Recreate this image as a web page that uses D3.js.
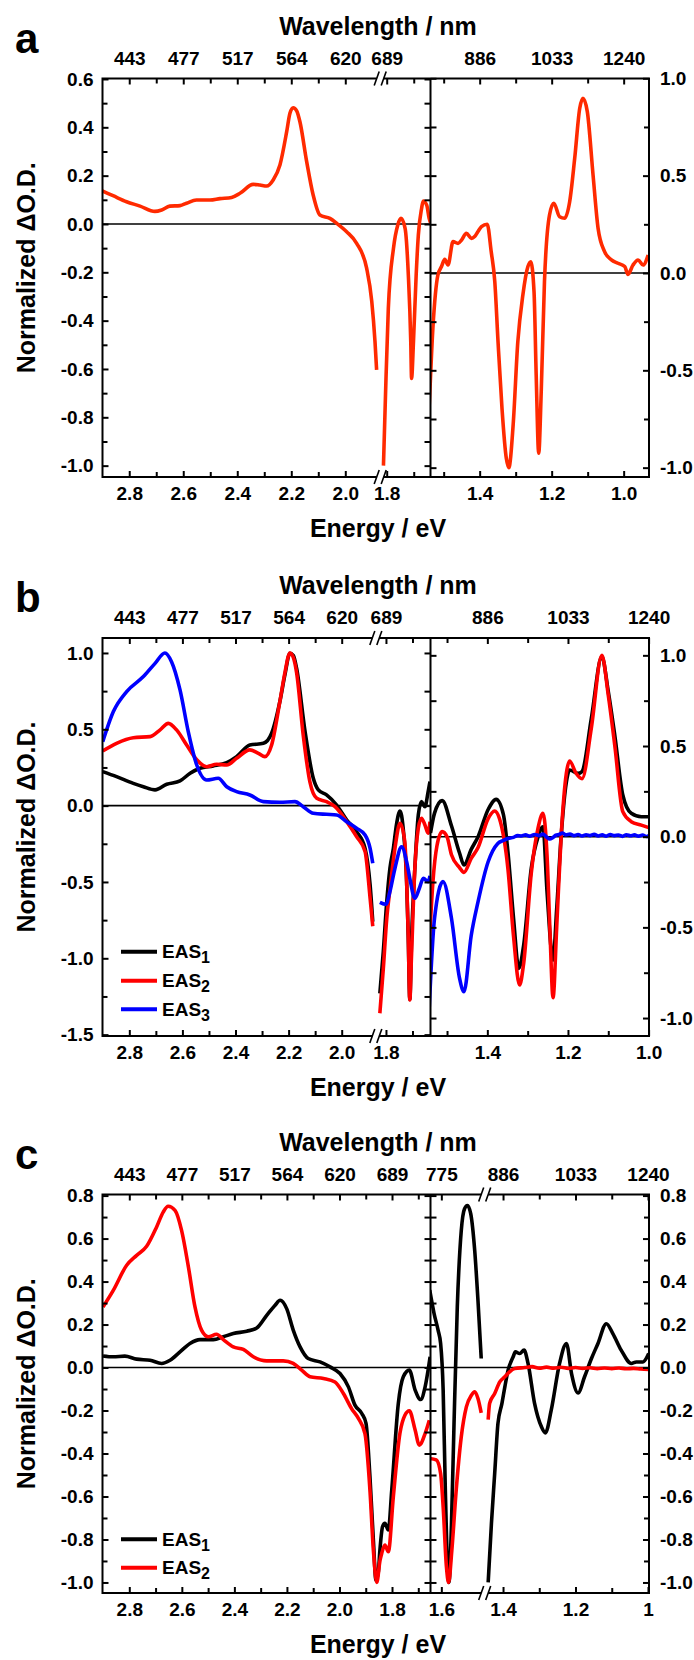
<!DOCTYPE html>
<html>
<head>
<meta charset="utf-8">
<script src="https://cdn.jsdelivr.net/npm/d3@7"></script>
<style>
  body { margin: 0; background: #fff; }
  svg { display: block; }
</style>
</head>
<body>
<svg id="chart" width="694" height="1660"></svg>
<script>
// ---- data: [energy eV, normalized dO.D.] ----

// panel a, single spectrum (visible, before and after the axis break, then NIR)
const aRedVis1 = [[2.90,0.137],[2.86,0.117],[2.81,0.092],[2.76,0.074],[2.705,0.052],[2.68,0.058],[2.65,0.074],[2.612,0.076],[2.588,0.086],[2.551,0.099],[2.501,0.099],[2.464,0.105],[2.421,0.110],[2.39,0.127],[2.341,0.164],[2.316,0.161],[2.291,0.157],[2.267,0.182],[2.242,0.244],[2.217,0.382],[2.205,0.458],[2.193,0.481],[2.18,0.468],[2.168,0.423],[2.143,0.258],[2.119,0.12],[2.094,0.037],[2.057,0.023],[2.032,0.003],[1.995,-0.032],[1.958,-0.08],[1.921,-0.183],[1.902,-0.32],[1.89,-0.487],[1.884,-0.604]]
const aRedVis2 = [[1.812,-1.0],[1.804,-0.69],[1.794,-0.349],[1.775,-0.101],[1.759,-0.004],[1.747,0.023],[1.732,-0.018],[1.72,-0.211],[1.711,-0.487],[1.708,-0.639],[1.701,-0.487],[1.691,-0.211],[1.683,-0.046],[1.671,0.064],[1.665,0.095],[1.652,0.078],[1.643,0.023],[1.636,0.0]]
const aRedNir = [[1.545,-0.85],[1.541,-0.712],[1.53,-0.284],[1.516,-0.01],[1.506,0.033],[1.497,0.07],[1.488,0.041],[1.474,0.161],[1.46,0.152],[1.45,0.17],[1.437,0.204],[1.423,0.178],[1.414,0.187],[1.405,0.212],[1.395,0.238],[1.379,0.25],[1.368,0.11],[1.358,-0.045],[1.349,-0.353],[1.338,-0.695],[1.326,-0.952],[1.319,-1.0],[1.307,-0.78],[1.294,-0.353],[1.28,-0.113],[1.266,0.033],[1.258,0.058],[1.249,-0.096],[1.243,-0.524],[1.236,-0.926],[1.229,-0.61],[1.22,-0.045],[1.206,0.298],[1.194,0.358],[1.178,0.289],[1.164,0.281],[1.15,0.366],[1.136,0.589],[1.122,0.846],[1.113,0.897],[1.101,0.829],[1.085,0.503],[1.071,0.229],[1.053,0.11],[1.034,0.067],[1.016,0.05],[0.997,0.033],[0.988,-0.007],[0.974,0.041],[0.96,0.067],[0.946,0.041],[0.932,0.092]]

// panel b, EAS1..EAS3
const bEas1Vis1 = [[2.90,0.223],[2.848,0.19],[2.785,0.146],[2.747,0.124],[2.703,0.103],[2.659,0.14],[2.609,0.162],[2.571,0.212],[2.534,0.245],[2.484,0.26],[2.433,0.282],[2.396,0.321],[2.346,0.397],[2.295,0.408],[2.264,0.474],[2.233,0.681],[2.214,0.856],[2.195,0.998],[2.182,0.983],[2.17,0.9],[2.138,0.485],[2.107,0.179],[2.088,0.103],[2.057,0.07],[2.019,0.004],[1.981,-0.094],[1.944,-0.17],[1.912,-0.28],[1.893,-0.52],[1.883,-0.76]]
const bEas1Vis2 = [[1.823,-1.23],[1.81,-0.956],[1.797,-0.629],[1.785,-0.41],[1.772,-0.279],[1.76,-0.12],[1.747,-0.035],[1.735,-0.15],[1.722,-0.5],[1.716,-0.85],[1.71,-1.27],[1.703,-0.85],[1.691,-0.41],[1.678,-0.061],[1.666,0.026],[1.653,-0.007],[1.641,0.09],[1.634,0.157]]
const bEas1Nir = [[1.541,0.02],[1.531,0.13],[1.512,0.199],[1.489,0.06],[1.469,-0.09],[1.458,-0.156],[1.44,-0.07],[1.423,0.0],[1.398,0.15],[1.378,0.206],[1.36,0.12],[1.349,-0.083],[1.335,-0.45],[1.322,-0.726],[1.31,-0.6],[1.291,-0.174],[1.274,0.0],[1.262,0.055],[1.252,-0.3],[1.237,-0.68],[1.228,-0.4],[1.217,0.0],[1.204,0.3],[1.196,0.368],[1.175,0.349],[1.165,0.36],[1.142,0.653],[1.116,0.993],[1.1,0.8],[1.084,0.561],[1.064,0.23],[1.043,0.129],[1.018,0.11],[1.0,0.11]]
const bEas2Vis1 = [[2.90,0.358],[2.848,0.408],[2.785,0.445],[2.722,0.452],[2.684,0.496],[2.653,0.539],[2.622,0.496],[2.584,0.397],[2.546,0.3],[2.509,0.255],[2.471,0.271],[2.433,0.266],[2.396,0.31],[2.346,0.365],[2.314,0.343],[2.289,0.321],[2.264,0.397],[2.233,0.681],[2.214,0.87],[2.195,1.0],[2.182,0.97],[2.17,0.873],[2.145,0.463],[2.12,0.157],[2.094,0.048],[2.057,0.026],[2.025,-0.007],[1.981,-0.105],[1.944,-0.203],[1.912,-0.3],[1.893,-0.607],[1.883,-0.79]]
const bEas2Vis2 = [[1.823,-1.36],[1.81,-1.07],[1.797,-0.74],[1.785,-0.55],[1.766,-0.279],[1.747,-0.116],[1.729,-0.236],[1.716,-0.847],[1.71,-1.273],[1.704,-1.0],[1.691,-0.41],[1.678,-0.148],[1.666,-0.083],[1.653,-0.127],[1.641,-0.181],[1.634,-0.105]]
const bEas2Nir = [[1.543,-0.55],[1.535,-0.25],[1.525,-0.05],[1.512,0.028],[1.5,0.0],[1.489,-0.1],[1.469,-0.17],[1.458,-0.197],[1.44,-0.12],[1.423,-0.06],[1.398,0.1],[1.382,0.142],[1.37,0.1],[1.349,-0.176],[1.335,-0.55],[1.32,-0.818],[1.31,-0.7],[1.291,-0.2],[1.274,0.05],[1.262,0.129],[1.252,-0.1],[1.245,-0.5],[1.237,-0.888],[1.228,-0.5],[1.217,0.0],[1.204,0.35],[1.196,0.417],[1.18,0.35],[1.165,0.32],[1.142,0.6],[1.116,1.0],[1.1,0.78],[1.084,0.506],[1.064,0.138],[1.043,0.083],[1.018,0.064],[1.0,0.05]]
const bEas3Vis1 = [[2.90,0.419],[2.86,0.616],[2.81,0.747],[2.747,0.845],[2.703,0.932],[2.666,1.0],[2.641,0.943],[2.609,0.758],[2.578,0.485],[2.546,0.266],[2.509,0.168],[2.465,0.179],[2.433,0.124],[2.396,0.092],[2.346,0.07],[2.295,0.026],[2.233,0.022],[2.176,0.026],[2.145,-0.007],[2.107,-0.05],[2.057,-0.057],[2.019,-0.061],[1.981,-0.105],[1.944,-0.148],[1.912,-0.192],[1.893,-0.28],[1.883,-0.378]]
const bEas3Vis2 = [[1.823,-0.633],[1.8,-0.646],[1.785,-0.563],[1.766,-0.41],[1.741,-0.27],[1.722,-0.367],[1.71,-0.476],[1.691,-0.607],[1.674,-0.541],[1.659,-0.476],[1.641,-0.498],[1.634,-0.46]]
const bEas3Nir = [[1.545,-0.983],[1.531,-0.45],[1.51,-0.248],[1.489,-0.45],[1.469,-0.78],[1.458,-0.855],[1.44,-0.545],[1.423,-0.358],[1.398,-0.138],[1.374,-0.037],[1.36,-0.02],[1.349,-0.01],[1.335,-0.004],[1.325,0.006],[1.316,0.004],[1.305,0.01],[1.295,0.003],[1.283,0.012],[1.272,0.006],[1.262,0.014],[1.254,0.0],[1.245,-0.013],[1.238,-0.006],[1.23,0.008],[1.222,0.012],[1.214,0.02],[1.205,0.01],[1.195,0.014],[1.185,0.006],[1.175,0.012],[1.165,0.004],[1.155,0.011],[1.145,0.006],[1.135,0.013],[1.125,0.004],[1.115,0.01],[1.105,0.003],[1.095,0.012],[1.085,0.006],[1.075,0.009],[1.065,0.002],[1.055,0.011],[1.045,0.005],[1.035,0.01],[1.025,0.003],[1.015,0.009],[1.005,0.001],[0.999,0.006]]

// panel c, EAS1 and EAS2 (break is in the NIR half here)
const cEas1Vis = [[2.90,0.054],[2.861,0.05],[2.817,0.053],[2.772,0.039],[2.721,0.034],[2.677,0.019],[2.645,0.034],[2.607,0.073],[2.569,0.112],[2.531,0.13],[2.48,0.13],[2.442,0.143],[2.404,0.158],[2.353,0.169],[2.315,0.184],[2.277,0.243],[2.245,0.29],[2.226,0.313],[2.201,0.274],[2.176,0.174],[2.15,0.096],[2.119,0.042],[2.074,0.026],[2.036,0.003],[1.998,-0.028],[1.966,-0.09],[1.941,-0.175],[1.915,-0.214],[1.899,-0.26],[1.884,-0.508],[1.871,-0.802],[1.861,-0.99],[1.852,-0.95],[1.846,-0.849],[1.836,-0.74],[1.827,-0.725],[1.814,-0.756],[1.801,-0.57],[1.776,-0.167],[1.757,-0.043],[1.734,-0.012],[1.712,-0.105],[1.691,-0.149],[1.674,-0.09],[1.655,0.05]]
const cEas1Nir1 = [[1.632,0.36],[1.62,0.251],[1.609,0.174],[1.602,0.112],[1.595,-0.105],[1.589,-0.57],[1.582,-0.957],[1.579,-1.0],[1.572,-0.725],[1.565,-0.26],[1.556,0.282],[1.545,0.638],[1.536,0.739],[1.528,0.754],[1.519,0.716],[1.508,0.545],[1.499,0.313],[1.49,0.042]]
const cEas1Nir2 = [[1.441,-1.0],[1.432,-0.725],[1.423,-0.493],[1.414,-0.26],[1.403,-0.167],[1.395,-0.09],[1.386,-0.012],[1.372,0.05],[1.366,0.073],[1.354,0.065],[1.342,0.081],[1.331,0.019],[1.313,-0.167],[1.294,-0.276],[1.283,-0.304],[1.267,-0.198],[1.244,0.019],[1.225,0.112],[1.211,-0.028],[1.193,-0.118],[1.175,-0.043],[1.156,0.042],[1.138,0.112],[1.115,0.204],[1.097,0.158],[1.074,0.081],[1.046,0.019],[1.032,0.026],[1.014,0.026],[0.998,0.065]]
const cEas2Vis = [[2.90,0.282],[2.861,0.359],[2.81,0.476],[2.772,0.522],[2.734,0.564],[2.696,0.654],[2.671,0.723],[2.652,0.75],[2.626,0.731],[2.601,0.638],[2.575,0.468],[2.55,0.282],[2.525,0.174],[2.499,0.143],[2.468,0.155],[2.442,0.13],[2.404,0.096],[2.366,0.084],[2.328,0.05],[2.277,0.031],[2.214,0.031],[2.176,0.019],[2.144,-0.012],[2.112,-0.043],[2.061,-0.051],[2.017,-0.067],[1.985,-0.121],[1.954,-0.191],[1.928,-0.237],[1.903,-0.307],[1.884,-0.57],[1.871,-0.849],[1.858,-1.0],[1.846,-0.9],[1.839,-0.864],[1.827,-0.826],[1.814,-0.857],[1.795,-0.601],[1.77,-0.307],[1.751,-0.222],[1.734,-0.201],[1.712,-0.291],[1.696,-0.361],[1.674,-0.307],[1.658,-0.245]]
const cEas2Nir1 = [[1.632,-0.423],[1.614,-0.43],[1.602,-0.493],[1.595,-0.648],[1.586,-0.926],[1.58,-1.0],[1.571,-0.849],[1.559,-0.57],[1.545,-0.322],[1.531,-0.183],[1.517,-0.129],[1.508,-0.113],[1.499,-0.144],[1.49,-0.211]]
const cEas2Nir2 = [[1.441,-0.242],[1.437,-0.167],[1.423,-0.121],[1.409,-0.067],[1.395,-0.043],[1.382,-0.02],[1.368,-0.005],[1.34,0.0],[1.32,0.004],[1.3,-0.003],[1.28,0.002],[1.26,-0.003],[1.24,0.001],[1.22,-0.004],[1.2,0.0],[1.18,-0.004],[1.16,-0.001],[1.14,-0.005],[1.12,-0.002],[1.1,-0.005],[1.08,-0.002],[1.06,-0.006],[1.04,-0.004],[1.02,-0.007],[0.998,-0.009]]

// ---- ticks and labels ----
const visMajor = [2.8, 2.6, 2.4, 2.2, 2.0, 1.8]
const visMinor = [2.7, 2.5, 2.3, 2.1, 1.9, 1.7]
const visNm = ['443', '477', '517', '564', '620', '689']
const nirMajor = [1.4, 1.2, 1.0]
const nirMinor = [1.5, 1.3, 1.1]
const nirNm = ['886', '1033', '1240']
const cNirMajor = [1.6, 1.4, 1.2, 1.0]
const cNirNm = ['775', '886', '1033', '1240']
const cNirLabels = ['1.6', '1.4', '1.2', '1']
const aLeftY = [0.6, 0.4, 0.2, 0.0, -0.2, -0.4, -0.6, -0.8, -1.0]
const aLeftYMinor = [0.5, 0.3, 0.1, -0.1, -0.3, -0.5, -0.7, -0.9]
const halfY = [1.0, 0.5, 0.0, -0.5, -1.0]
const halfYMinor = [0.75, 0.25, -0.25, -0.75]
const bLeftY = [1.0, 0.5, 0.0, -0.5, -1.0, -1.5]
const bLeftYMinor = [0.75, 0.25, -0.25, -0.75, -1.25]
const cY = [0.8, 0.6, 0.4, 0.2, 0.0, -0.2, -0.4, -0.6, -0.8, -1.0]
const cYMinor = [0.7, 0.5, 0.3, 0.1, -0.1, -0.3, -0.5, -0.7, -0.9]

const FONT = 'Liberation Sans, Arial, Helvetica, sans-serif'
const TICK_FONT = 19
const X0 = 102.5, XM = 430.5, X1 = 649

const panels = [
    {
        name: 'a', top: 78.5, bottom: 477,
        xL: { domain: [2.899, 1.88, 1.815, 1.638], range: [X0, 377.7, 382.65, XM] }, breakL: 380.2,
        xR: { domain: [1.5366, 0.9296], range: [XM, X1] }, breakR: null,
        yL: [-1.047, 0.602], yR: [-1.048, 0.999],
        yLMajor: aLeftY, yLMinor: aLeftYMinor, yRMajor: halfY, yRMinor: halfYMinor,
        nirMajor: nirMajor, nirMinor: nirMinor, nirNm: nirNm, nirLabels: null,
        series: [{ color: '#ff2a00', left: [aRedVis1, aRedVis2], right: [aRedNir] }],
        legend: []
    },
    {
        name: 'b', top: 638, bottom: 1036,
        xL: { domain: [2.901, 1.88, 1.83, 1.632], range: [X0, 373.56, 378.0, XM] }, breakL: 375.8,
        xR: { domain: [1.541, 0.999], range: [XM, X1] }, breakR: null,
        yL: [-1.509, 1.098], yR: [-1.099, 1.0956],
        yLMajor: bLeftY, yLMinor: bLeftYMinor, yRMajor: halfY, yRMinor: halfYMinor,
        nirMajor: nirMajor, nirMinor: nirMinor, nirNm: nirNm, nirLabels: null,
        series: [
            { color: '#000000', left: [bEas1Vis1, bEas1Vis2], right: [bEas1Nir] },
            { color: '#ff0000', left: [bEas2Vis1, bEas2Vis2], right: [bEas2Nir] },
            { color: '#0000ff', left: [bEas3Vis1, bEas3Vis2], right: [bEas3Nir] }
        ],
        legend: [{ color: '#000000', n: '1', y: 951.7 }, { color: '#ff0000', n: '2', y: 980.7 }, { color: '#0000ff', n: '3', y: 1009.3 }]
    },
    {
        name: 'c', top: 1194.5, bottom: 1593,
        xL: { domain: [2.902, 1.6535], range: [X0, XM] }, breakL: null,
        xR: { domain: [1.6299, 1.484, 1.447, 0.9972], range: [XM, 483.4, 486.0, X1] }, breakR: 484.7,
        yL: [-1.049, 0.805], yR: [-1.049, 0.805],
        yLMajor: cY, yLMinor: cYMinor, yRMajor: cY, yRMinor: cYMinor,
        nirMajor: cNirMajor, nirMinor: nirMinor, nirNm: cNirNm, nirLabels: cNirLabels,
        series: [
            { color: '#000000', left: [cEas1Vis], right: [cEas1Nir1, cEas1Nir2] },
            { color: '#ff0000', left: [cEas2Vis], right: [cEas2Nir1, cEas2Nir2] }
        ],
        legend: [{ color: '#000000', n: '1', y: 1539.3 }, { color: '#ff0000', n: '2', y: 1567.7 }]
    }
]

const svg = d3.select('#chart')
svg.append('rect').attr('width', 694).attr('height', 1660).attr('fill', '#fff')

function styleAxis(g) {
    g.attr('font-family', FONT).attr('font-size', TICK_FONT).attr('font-weight', 'bold')
    g.select('.domain').remove()
    g.selectAll('line').attr('stroke', '#000').attr('stroke-width', 2)
    g.selectAll('text').attr('fill', '#000')
}

// keep ticks away from the "//" mark
function awayFrom(scale, brk) {
    return (v) => brk == null || Math.abs(scale(v) - brk) > 9
}

function drawPanel(p) {
    const g = svg.append('g')
    const xL = d3.scaleLinear().domain(p.xL.domain).range(p.xL.range)
    const xR = d3.scaleLinear().domain(p.xR.domain).range(p.xR.range)
    const yL = d3.scaleLinear().domain(p.yL).range([p.bottom, p.top])
    const yR = d3.scaleLinear().domain(p.yR).range([p.bottom, p.top])

    // clip areas for each half
    const defs = g.append('defs')
    defs.append('clipPath').attr('id', 'clip-' + p.name + 'L')
        .append('rect').attr('x', X0).attr('y', p.top).attr('width', XM - X0).attr('height', p.bottom - p.top)
    defs.append('clipPath').attr('id', 'clip-' + p.name + 'R')
        .append('rect').attr('x', XM).attr('y', p.top).attr('width', X1 - XM).attr('height', p.bottom - p.top)

    // zero lines
    g.append('line').attr('x1', X0).attr('x2', XM).attr('y1', yL(0)).attr('y2', yL(0))
        .attr('stroke', '#000').attr('stroke-width', 1.6)
    g.append('line').attr('x1', XM).attr('x2', X1).attr('y1', yR(0)).attr('y2', yR(0))
        .attr('stroke', '#000').attr('stroke-width', 1.6)

    // curves
    const lineL = d3.line().x(d => xL(d[0])).y(d => yL(d[1])).curve(d3.curveMonotoneX)
    const lineR = d3.line().x(d => xR(d[0])).y(d => yR(d[1])).curve(d3.curveMonotoneX)
    const gl = g.append('g').attr('clip-path', 'url(#clip-' + p.name + 'L)')
    const gr = g.append('g').attr('clip-path', 'url(#clip-' + p.name + 'R)')
    p.series.forEach(s => {
        s.left.forEach(seg => {
            gl.append('path').attr('d', lineL(seg)).attr('fill', 'none')
                .attr('stroke', s.color).attr('stroke-width', 3.6).attr('stroke-linejoin', 'round')
        })
        s.right.forEach(seg => {
            gr.append('path').attr('d', lineR(seg)).attr('fill', 'none')
                .attr('stroke', s.color).attr('stroke-width', 3.6).attr('stroke-linejoin', 'round')
        })
    })

    // frame
    g.append('rect').attr('x', X0).attr('y', p.top).attr('width', X1 - X0).attr('height', p.bottom - p.top)
        .attr('fill', 'none').attr('stroke', '#000').attr('stroke-width', 2)
    g.append('line').attr('x1', XM).attr('x2', XM).attr('y1', p.top).attr('y2', p.bottom)
        .attr('stroke', '#000').attr('stroke-width', 2)

    // x axes, left half
    const visMinorL = visMinor.filter(awayFrom(xL, p.breakL))
    styleAxis(g.append('g').attr('transform', `translate(0,${p.bottom})`)
        .call(d3.axisBottom(xL).tickValues(visMajor).tickSizeInner(-6).tickSizeOuter(0).tickPadding(10)
            .tickFormat(d => d.toFixed(1))))
    styleAxis(g.append('g').attr('transform', `translate(0,${p.bottom})`)
        .call(d3.axisBottom(xL).tickValues(visMinorL).tickSizeInner(-5).tickSizeOuter(0).tickFormat('')))
    styleAxis(g.append('g').attr('transform', `translate(0,${p.top})`)
        .call(d3.axisTop(xL).tickValues(visMajor).tickSizeInner(-6).tickSizeOuter(0).tickPadding(14)
            .tickFormat((d, i) => visNm[i])))
    styleAxis(g.append('g').attr('transform', `translate(0,${p.top})`)
        .call(d3.axisTop(xL).tickValues(visMinorL).tickSizeInner(-5).tickSizeOuter(0).tickFormat('')))

    // x axes, right half
    const nirMinorR = p.nirMinor.filter(awayFrom(xR, p.breakR))
    styleAxis(g.append('g').attr('transform', `translate(0,${p.bottom})`)
        .call(d3.axisBottom(xR).tickValues(p.nirMajor).tickSizeInner(-6).tickSizeOuter(0).tickPadding(10)
            .tickFormat((d, i) => p.nirLabels ? p.nirLabels[i] : d.toFixed(1))))
    styleAxis(g.append('g').attr('transform', `translate(0,${p.bottom})`)
        .call(d3.axisBottom(xR).tickValues(nirMinorR).tickSizeInner(-5).tickSizeOuter(0).tickFormat('')))
    styleAxis(g.append('g').attr('transform', `translate(0,${p.top})`)
        .call(d3.axisTop(xR).tickValues(p.nirMajor).tickSizeInner(-6).tickSizeOuter(0).tickPadding(14)
            .tickFormat((d, i) => p.nirNm[i])))
    styleAxis(g.append('g').attr('transform', `translate(0,${p.top})`)
        .call(d3.axisTop(xR).tickValues(nirMinorR).tickSizeInner(-5).tickSizeOuter(0).tickFormat('')))

    // y axes: left scale on the outer left and on the divider, right scale on the divider and outer right
    styleAxis(g.append('g').attr('transform', `translate(${X0},0)`)
        .call(d3.axisLeft(yL).tickValues(p.yLMajor).tickSizeInner(-6).tickSizeOuter(0).tickPadding(9)
            .tickFormat(d => d.toFixed(1))))
    styleAxis(g.append('g').attr('transform', `translate(${X0},0)`)
        .call(d3.axisLeft(yL).tickValues(p.yLMinor).tickSizeInner(-5).tickSizeOuter(0).tickFormat('')))
    styleAxis(g.append('g').attr('transform', `translate(${XM},0)`)
        .call(d3.axisRight(yL).tickValues(p.yLMajor.concat(p.yLMinor)).tickSizeInner(-6).tickSizeOuter(0).tickFormat('')))
    styleAxis(g.append('g').attr('transform', `translate(${XM},0)`)
        .call(d3.axisLeft(yR).tickValues(p.yRMajor.concat(p.yRMinor)).tickSizeInner(-6).tickSizeOuter(0).tickFormat('')))
    styleAxis(g.append('g').attr('transform', `translate(${X1},0)`)
        .call(d3.axisRight(yR).tickValues(p.yRMajor).tickSizeInner(-6).tickSizeOuter(0).tickPadding(11)
            .tickFormat(d => d.toFixed(1))))
    styleAxis(g.append('g').attr('transform', `translate(${X1},0)`)
        .call(d3.axisRight(yR).tickValues(p.yRMinor).tickSizeInner(-5).tickSizeOuter(0).tickFormat('')))

    // axis break marks
    const brk = p.breakL != null ? p.breakL : p.breakR
    ;[p.top, p.bottom].forEach(yy => {
        g.append('rect').attr('x', brk - 3.5).attr('y', yy - 3).attr('width', 7).attr('height', 6).attr('fill', '#fff')
        g.append('line').attr('x1', brk - 6).attr('y1', yy + 7).attr('x2', brk - 1).attr('y2', yy - 7)
            .attr('stroke', '#000').attr('stroke-width', 1.6)
        g.append('line').attr('x1', brk + 1).attr('y1', yy + 7).attr('x2', brk + 6).attr('y2', yy - 7)
            .attr('stroke', '#000').attr('stroke-width', 1.6)
    })

    // titles
    const cx = 378
    g.append('text').attr('x', 15).attr('y', p.top - 26).text(p.name)
        .attr('font-family', FONT).attr('font-size', 42).attr('font-weight', 'bold')
    g.append('text').attr('x', cx).attr('y', p.top - 44).attr('text-anchor', 'middle').text('Wavelength / nm')
        .attr('font-family', FONT).attr('font-size', 25).attr('font-weight', 'bold')
    g.append('text').attr('x', cx).attr('y', p.bottom + 60).attr('text-anchor', 'middle').text('Energy / eV')
        .attr('font-family', FONT).attr('font-size', 25).attr('font-weight', 'bold')
    g.append('text').attr('transform', `translate(35,${(p.top + p.bottom) / 2 - 10}) rotate(-90)`)
        .attr('text-anchor', 'middle').text('Normalized \u0394O.D.')
        .attr('font-family', FONT).attr('font-size', 25).attr('font-weight', 'bold')

    // legend
    p.legend.forEach(l => {
        g.append('line').attr('x1', 121).attr('x2', 157).attr('y1', l.y).attr('y2', l.y)
            .attr('stroke', l.color).attr('stroke-width', 4)
        const t = g.append('text').attr('x', 162).attr('y', l.y + 6.5)
            .attr('font-family', FONT).attr('font-size', 19).attr('font-weight', 'bold')
        t.append('tspan').text('EAS')
        t.append('tspan').attr('font-size', 16).attr('dy', 5).text(l.n)
    })
}

panels.forEach(drawPanel)
</script>
</body>
</html>
